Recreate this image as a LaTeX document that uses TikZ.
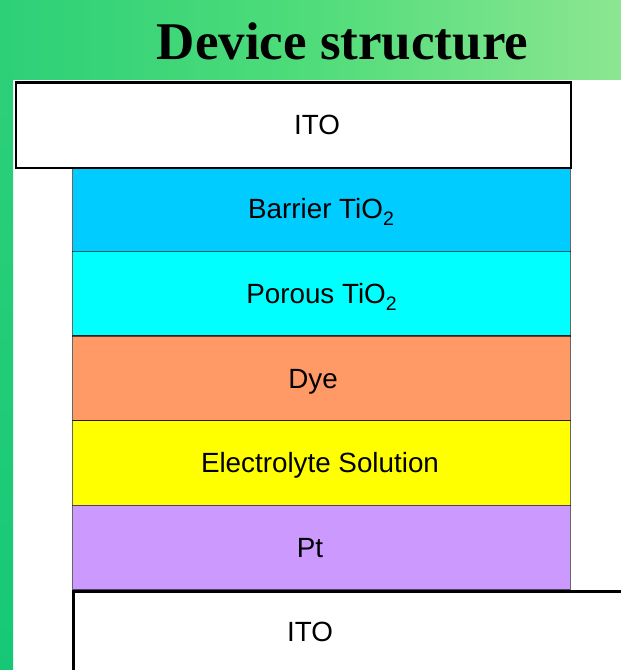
\documentclass[tikz,border=0pt]{standalone}
\usepackage{fontspec}
\setmainfont{Liberation Sans}
\newfontfamily\titlefont{Liberation Serif}
\definecolor{barrierc}{HTML}{00CCFF}
\definecolor{porousc}{HTML}{00FFFF}
\definecolor{dyec}{HTML}{FF9966}
\definecolor{electc}{HTML}{FFFF00}
\definecolor{ptc}{HTML}{CC99FF}
\definecolor{gleft}{RGB}{44,208,120}
\definecolor{gmid}{RGB}{80,220,122}
\definecolor{gright}{RGB}{140,230,145}
\definecolor{stript}{RGB}{44,208,120}
\definecolor{stripb}{RGB}{22,200,118}
\newcommand{\subtwo}{\raisebox{-0.27em}{\fontsize{19.5}{19.5}\selectfont 2}}
\tikzset{
  layerbox/.style={draw=black, draw opacity=0.6, line width=1.3pt, inner sep=0pt,
    minimum width=497.7pt, minimum height=84.6pt, anchor=north west},
  itobox/.style={draw=black, line width=2.6pt, fill=white, inner sep=0pt, anchor=north west},
  lbl/.style={inner sep=0pt, anchor=base, font=\fontsize{27.8}{27.8}\selectfont},
}
\begin{document}
\begin{tikzpicture}[x=1pt,y=-1pt]
\useasboundingbox (0,0) rectangle (621,670);
\clip (0,0) rectangle (621,670);
\fill[white] (0,0) rectangle (621,670);
\shade[left color=gleft, right color=gright, middle color=gmid] (0,0) rectangle (621,79.5);
\shade[top color=stript, bottom color=stripb] (0,79.5) rectangle (13,670);
% title
\node[inner sep=0pt, anchor=base, font=\titlefont\bfseries\fontsize{53}{53}\selectfont] (title) at (342.5,59.5) {Device structure};
% layers
\node[layerbox, fill=barrierc] (barrier) at (72,166.2) {};
\node[layerbox, fill=porousc] (porous) at (72,250.8) {};
\node[layerbox, fill=dyec] (dye) at (72,335.4) {};
\node[layerbox, fill=electc] (elec) at (72,420) {};
\node[layerbox, fill=ptc] (pt) at (72,504.6) {};
% ITO boxes
\node[itobox, minimum width=555pt, minimum height=85.3pt] (itotop) at (14.6,81.3) {};
\node[itobox, minimum width=600pt, minimum height=120pt] (itobot) at (72,590.2) {};
% labels
\node[lbl] (litotop) at (317,134) {ITO};
\node[lbl] (lbarrier) at (321,218) {Barrier TiO\subtwo};
\node[lbl] (lporous) at (321.5,303) {Porous TiO\subtwo};
\node[lbl] (ldye) at (313,388) {Dye};
\node[lbl] (lelec) at (320,472) {Electrolyte Solution};
\node[lbl] (lpt) at (310,557) {Pt};
\node[lbl] (litobot) at (310,641) {ITO};
\end{tikzpicture}
\end{document}
